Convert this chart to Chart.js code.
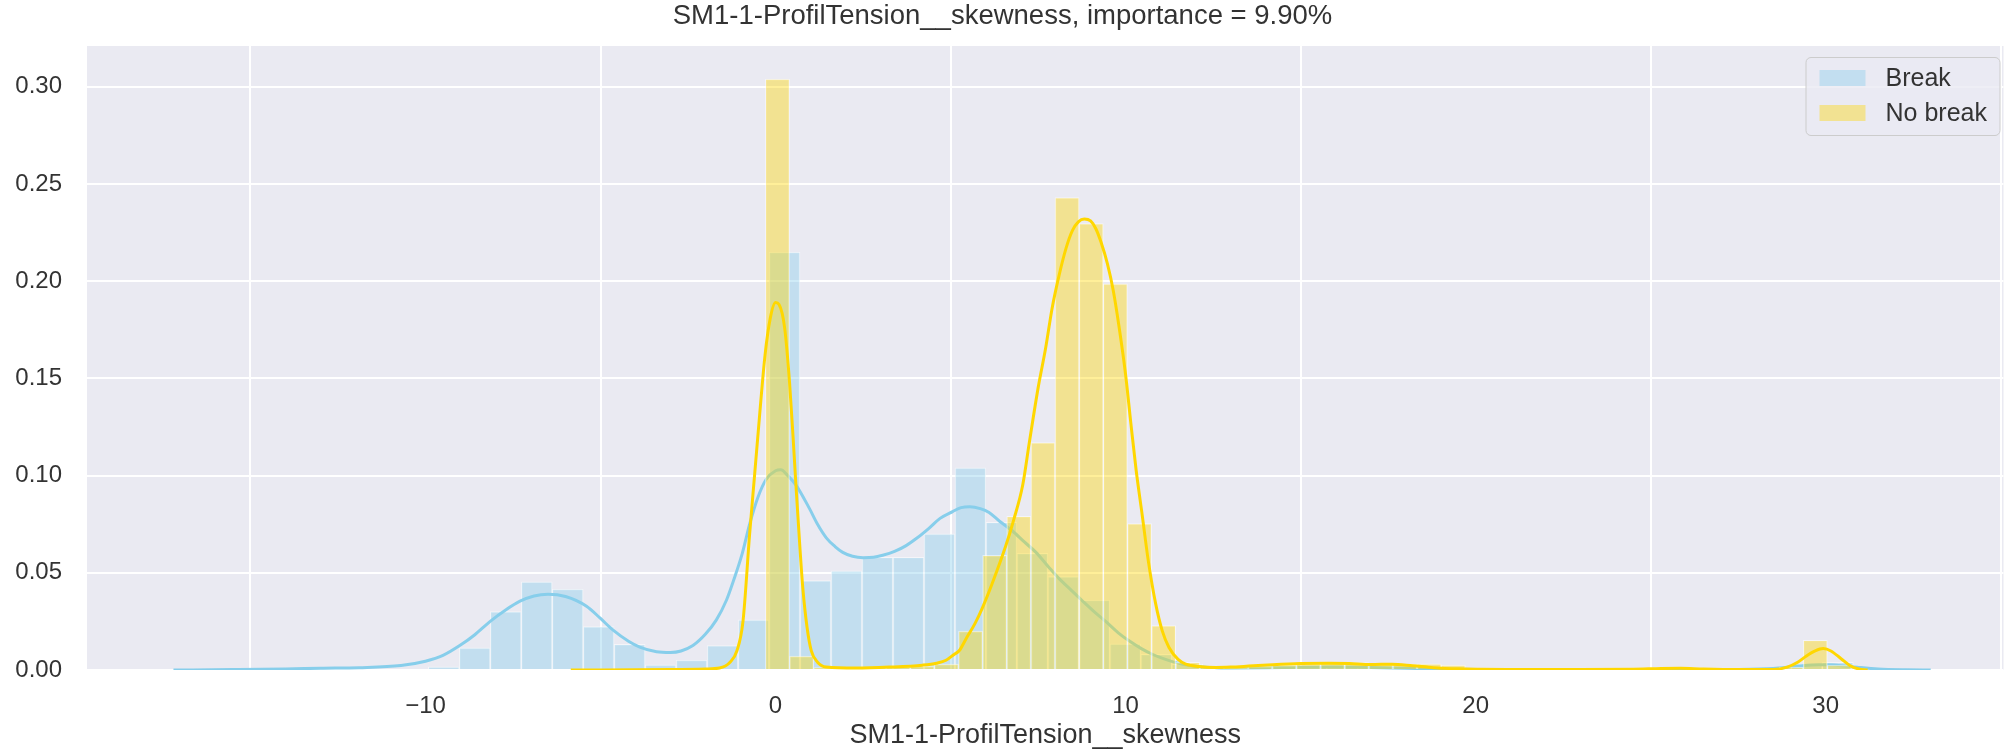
<!DOCTYPE html>
<html>
<head>
<meta charset="utf-8">
<title>SM1-1-ProfilTension__skewness</title>
<script src="https://cdn.jsdelivr.net/npm/chart.js@4.4.1/dist/chart.umd.min.js"></script>
<style>
  html, body { margin: 0; padding: 0; background: #fff; }
  #distChart { display: block; }
</style>
</head>
<body>
<canvas id="distChart" width="2005" height="752"></canvas>
<script>
// axis ticks
const xTicks = [-10, 0, 10, 20, 30];
const yTicks = [0, 0.05, 0.10, 0.15, 0.20, 0.25, 0.30];

// Break histogram (left bin edges + density)
const breakBinWidth = 0.885;
const breakBinEdges = [
  -9.92, -9.035, -8.15, -7.265, -6.38, -5.495, -4.61, -3.725, -2.84, -1.955,
  -1.07, -0.185, 0.70, 1.585, 2.47, 3.355, 4.24, 5.125, 6.01, 6.895,
  7.78, 8.665, 9.55, 10.435, 11.32, 12.205, 13.09, 13.975, 14.86, 15.745,
  16.63, 17.515, 18.40, 19.285, 20.17, 21.055, 21.94, 22.825, 23.71, 24.595,
  25.48, 26.365, 27.25, 28.135, 29.02, 29.905
];
const breakDensity = [
  0.0016, 0.0114, 0.030, 0.0454, 0.0416, 0.0223, 0.0132, 0.0026, 0.0051, 0.0126,
  0.0258, 0.215, 0.046, 0.051, 0.058, 0.058, 0.070, 0.104, 0.076, 0.060,
  0.048, 0.036, 0.0135, 0.008, 0.003, 0.0012, 0.0010, 0.0014, 0.0016, 0.0015,
  0.0012, 0.0010, 0.0006, 0.0003, 0.0002, 0.0001, 0.0001, 0.0002, 0.0001, 0.0002,
  0.0002, 0.0001, 0.0002, 0.0006, 0.003, 0.004
];

// No break histogram
const noBreakBinWidth = 0.6895;
const noBreakBinEdges = [
  -0.29, 0.40, 1.089, 1.779, 2.468, 3.158, 3.847, 4.537, 5.226, 5.916,
  6.605, 7.295, 7.984, 8.674, 9.363, 10.053, 10.742, 11.432, 12.121, 12.811,
  13.50, 14.19, 14.879, 15.569, 16.258, 16.948, 17.637, 18.327, 19.016, 19.706,
  20.395, 21.085, 21.774, 22.464, 23.153, 23.843, 24.532, 25.222, 25.911, 26.601,
  27.29, 27.98, 28.669, 29.359, 30.048
];
const noBreakDensity = [
  0.304, 0.0071, 0.0012, 0.0008, 0.0012, 0.0015, 0.002, 0.003, 0.020, 0.059,
  0.079, 0.117, 0.243, 0.2297, 0.1986, 0.0753, 0.0228, 0.004, 0.0015, 0.0012,
  0.002, 0.0025, 0.003, 0.0035, 0.0038, 0.0032, 0.003, 0.0032, 0.0025, 0.0008,
  0.0004, 0.0003, 0.0003, 0.0003, 0.0003, 0.0003, 0.0003, 0.0008, 0.001, 0.0003,
  0.0003, 0.0003, 0.0015, 0.0153, 0.0025
];

// KDE curves
const breakKdeX = [
  -17.2, -15.5, -14, -13, -11.9, -10.7, -10, -9.5, -9.0, -8.6,
  -8.16, -7.7, -7.3, -6.9, -6.5, -6.0, -5.4, -5.0, -4.64, -4.2,
  -3.88, -3.4, -3.0, -2.7, -2.36, -2.0, -1.69, -1.4, -1.2, -0.95,
  -0.74, -0.5, -0.27, 0.0, 0.15, 0.35, 0.59, 0.97, 1.2, 1.45,
  1.7, 1.92, 2.2, 2.5, 2.8, 3.06, 3.4, 3.73, 4.05, 4.39,
  4.7, 5.06, 5.3, 5.55, 5.85, 6.1, 6.4, 6.77, 7.1, 7.44,
  7.8, 8.1, 8.45, 8.77, 9.1, 9.43, 9.8, 10.1, 10.45, 10.76,
  11.1, 11.43, 11.8, 12.1, 12.6, 13.0, 14, 15, 16, 17,
  18, 19, 20, 22, 24, 26, 27.5, 28.5, 29.2, 29.8,
  30.3, 30.9, 31.5, 32.3, 33
];
const breakKdeY = [
  0, 0.0002, 0.0005, 0.0009, 0.0012, 0.0023, 0.0045, 0.0075, 0.0128, 0.018,
  0.0249, 0.031, 0.0354, 0.0381, 0.039, 0.0378, 0.0328, 0.0265, 0.0205, 0.0148,
  0.0118, 0.0094, 0.009, 0.0098, 0.0126, 0.0185, 0.0258, 0.036, 0.046, 0.060,
  0.075, 0.089, 0.098, 0.1025, 0.103, 0.100, 0.095, 0.083, 0.075, 0.068,
  0.0635, 0.0605, 0.0585, 0.0578, 0.058, 0.059, 0.061, 0.064, 0.068, 0.073,
  0.078, 0.0815, 0.0835, 0.084, 0.083, 0.081, 0.0765, 0.0715, 0.066, 0.0605,
  0.053, 0.047, 0.041, 0.0355, 0.030, 0.025, 0.019, 0.015, 0.011, 0.0081,
  0.0057, 0.0038, 0.0024, 0.0017, 0.0012, 0.0010, 0.0011, 0.0014, 0.0015, 0.0013,
  0.0009, 0.0005, 0.0003, 0.0002, 0.0002, 0.0002, 0.0003, 0.0008, 0.002, 0.0027,
  0.0025, 0.0014, 0.0005, 0.0001, 0
];

const noBreakKdeX = [
  -5.85, -3, -2, -1.6, -1.3, -1.1, -0.93, -0.74, -0.6, -0.46,
  -0.3, -0.15, 0.0, 0.1, 0.26, 0.40, 0.5, 0.59, 0.7, 0.78,
  0.9, 1.02, 1.2, 1.45, 2.3, 3.25, 4.2, 4.6, 4.87, 5.1,
  5.25, 5.44, 5.7, 5.91, 6.2, 6.58, 6.8, 7.06, 7.25, 7.5,
  7.72, 7.9, 8.1, 8.3, 8.48, 8.65, 8.82, 9.0, 9.15, 9.3,
  9.48, 9.65, 9.81, 10.0, 10.15, 10.3, 10.48, 10.65, 10.86, 11.05,
  11.24, 11.5, 11.72, 12.1, 12.57, 13.0, 13.52, 14.2, 15.0, 15.8,
  16.4, 17.0, 17.6, 18.2, 18.8, 19.5, 20.1, 21, 23, 24.5,
  25.3, 25.85, 26.5, 27.5, 28.5, 28.9, 29.2, 29.45, 29.7, 29.93,
  30.15, 30.44, 30.7, 30.95, 31.2
];
const noBreakKdeY = [
  0, 0.0002, 0.0005, 0.001, 0.004, 0.010, 0.025, 0.070, 0.100, 0.130,
  0.162, 0.181, 0.189, 0.188, 0.176, 0.148, 0.120, 0.093, 0.062, 0.042,
  0.022, 0.010, 0.004, 0.0015, 0.001, 0.0015, 0.0025, 0.0035, 0.005, 0.008,
  0.010, 0.016, 0.024, 0.032, 0.045, 0.064, 0.077, 0.095, 0.117, 0.145,
  0.166, 0.186, 0.203, 0.217, 0.226, 0.2305, 0.232, 0.231, 0.227, 0.220,
  0.209, 0.195, 0.177, 0.152, 0.127, 0.103, 0.079, 0.056, 0.034, 0.020,
  0.0116, 0.0055, 0.003, 0.0018, 0.0013, 0.0015, 0.002, 0.0027, 0.0033, 0.0035,
  0.0033, 0.0028, 0.003, 0.0022, 0.0012, 0.0006, 0.0004, 0.0003, 0.0003, 0.0004,
  0.0008, 0.0009, 0.0005, 0.0002, 0.0003, 0.0015, 0.004, 0.0072, 0.0098, 0.011,
  0.0098, 0.0058, 0.0022, 0.0005, 0
];

const xMin = -19.67;
const xMax = 35.08;
const yMax = 0.321;

const FONT = "'Liberation Sans', Arial, sans-serif";
const TEXT = '#333333';

function histPoints(edges, width, values) {
  return edges.map((e, i) => ({ x: e + width / 2, y: values[i] }));
}
function curvePoints(xs, ys) {
  return xs.map((x, i) => ({ x: x, y: ys[i] }));
}

// grey plot background like seaborn darkgrid
const plotBg = {
  id: 'plotBg',
  beforeDraw(chart) {
    const { ctx, chartArea: a } = chart;
    ctx.save();
    ctx.fillStyle = '#eaeaf2';
    ctx.fillRect(a.left, a.top, a.right - a.left, a.bottom - a.top);
    ctx.restore();
  }
};

// framed legend in the upper right corner
const boxLegend = {
  id: 'boxLegend',
  afterDraw(chart) {
    const c = chart.ctx;
    const a = chart.chartArea;
    const items = chart.data.datasets.filter(d => d.type === 'bar');
    const w = 194, h = 78;
    const left = a.right - w - 4, top = a.top + 11;

    c.save();
    c.beginPath();
    c.roundRect(left + 0.5, top + 0.5, w, h, 5);
    c.fillStyle = 'rgba(234,234,242,0.8)';
    c.fill();
    c.strokeStyle = '#cccccc';
    c.lineWidth = 1;
    c.stroke();

    c.font = '25px ' + FONT;
    c.textBaseline = 'middle';
    c.textAlign = 'left';
    items.forEach((d, i) => {
      const cy = top + 21 + i * 35;
      c.fillStyle = d.backgroundColor;
      c.fillRect(left + 14, cy - 8, 46, 16);
      c.fillStyle = TEXT;
      c.fillText(d.label, left + 80, cy + 1);
    });
    c.restore();
  }
};

const ctx = document.getElementById('distChart');

const chart = new Chart(ctx, {
  type: 'bar',
  data: {
    datasets: [
      {
        type: 'bar',
        label: 'Break',
        data: histPoints(breakBinEdges, breakBinWidth, breakDensity),
        binWidth: breakBinWidth,
        backgroundColor: 'rgba(135,206,235,0.4)',
        borderColor: 'rgba(255,255,255,0.5)',
        borderWidth: 1,
        grouped: false,
        order: 3
      },
      {
        type: 'line',
        label: 'Break KDE',
        data: curvePoints(breakKdeX, breakKdeY),
        borderColor: 'rgb(135,206,235)',
        borderWidth: 3,
        pointRadius: 0,
        fill: false,
        cubicInterpolationMode: 'monotone',
        order: 2
      },
      {
        type: 'bar',
        label: 'No break',
        data: histPoints(noBreakBinEdges, noBreakBinWidth, noBreakDensity),
        binWidth: noBreakBinWidth,
        backgroundColor: 'rgba(255,215,0,0.4)',
        borderColor: 'rgba(255,255,255,0.5)',
        borderWidth: 1,
        grouped: false,
        order: 1
      },
      {
        type: 'line',
        label: 'No break KDE',
        data: curvePoints(noBreakKdeX, noBreakKdeY),
        borderColor: 'rgb(255,215,0)',
        borderWidth: 3,
        pointRadius: 0,
        fill: false,
        cubicInterpolationMode: 'monotone',
        order: 0
      }
    ]
  },
  options: {
    responsive: false,
    animation: false,
    devicePixelRatio: 1,
    events: [],
    layout: { padding: 0 },
    plugins: {
      legend: { display: false },
      tooltip: { enabled: false },
      title: {
        display: true,
        text: 'SM1-1-ProfilTension__skewness, importance = 9.90%',
        color: TEXT,
        font: { family: FONT, size: 27.5, weight: 'normal' },
        padding: { top: 0, bottom: 13 }
      }
    },
    scales: {
      x: {
        type: 'linear',
        min: xMin,
        max: xMax,
        offset: false,
        afterBuildTicks: s => { s.ticks = xTicks.map(v => ({ value: v })); },
        afterFit: s => { s.height = 82; },
        grid: { color: '#ffffff', lineWidth: 2, drawTicks: false },
        border: { display: false },
        ticks: {
          padding: 22,
          color: TEXT,
          maxRotation: 0,
          autoSkip: false,
          font: { family: FONT, size: 24 },
          callback: v => (v < 0 ? '\u2212' + Math.abs(v) : String(v))
        },
        title: {
          display: true,
          text: 'SM1-1-ProfilTension__skewness',
          color: TEXT,
          font: { family: FONT, size: 27 },
          padding: { top: 0, bottom: 0 }
        }
      },
      y: {
        min: 0,
        max: yMax,
        afterBuildTicks: s => { s.ticks = yTicks.map(v => ({ value: v })); },
        afterFit: s => { s.width = 87; },
        grid: { color: '#ffffff', lineWidth: 2, drawTicks: false },
        border: { display: false },
        ticks: {
          padding: 25,
          color: TEXT,
          font: { family: FONT, size: 24 },
          callback: v => Number(v).toFixed(2)
        }
      }
    }
  },
  plugins: [plotBg, boxLegend]
});

// bar width = bin width measured on the x scale
const xs = chart.scales.x;
chart.data.datasets.forEach(ds => {
  if (ds.binWidth) {
    ds.barThickness = xs.getPixelForValue(ds.binWidth) - xs.getPixelForValue(0);
  }
});
chart.update('none');
</script>
</body>
</html>
